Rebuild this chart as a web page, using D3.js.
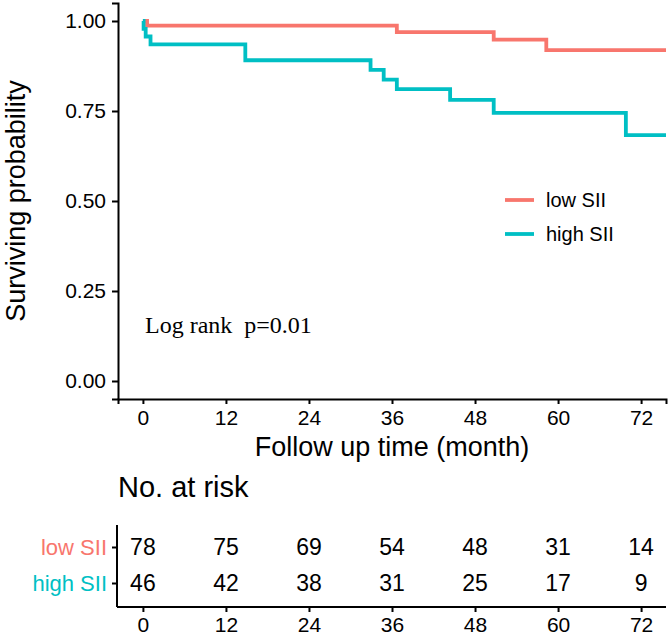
<!DOCTYPE html>
<html><head><meta charset="utf-8">
<script src="https://cdn.jsdelivr.net/npm/d3@7"></script>
<style>body{margin:0;background:#fff}svg{display:block}</style>
</head><body><svg id="c" width="669" height="643" font-family="Liberation Sans, Arial, sans-serif"></svg>
<script>
const groups = ["low SII", "high SII"];
const colors = ["#F8766D", "#00BFC4"];
const lowTimes = [0, 0.6, 36.7, 50.7, 58.3];
const lowSurv  = [1, 0.987, 0.969, 0.948, 0.919];
const highTimes = [0, 0.1, 0.4, 1.1, 14.8, 32.9, 34.8, 36.7, 44.4, 50.7, 69.8];
const highSurv  = [1, 0.978, 0.957, 0.935, 0.891, 0.864, 0.837, 0.811, 0.781, 0.745, 0.683];
const endTime = 75.6;
const xTicks = [0, 12, 24, 36, 48, 60, 72];
const yTicks = [0, 0.25, 0.5, 0.75, 1];
const riskLow  = [78, 75, 69, 54, 48, 31, 14];
const riskHigh = [46, 42, 38, 31, 25, 17, 9];
const pText = "Log rank  p=0.01";

const SANS = "Liberation Sans, Arial, sans-serif";
const svg = d3.select("#c");
const x = d3.scaleLinear().domain([-3.6, 75.6]).range([118, 666]);
const y = d3.scaleLinear().domain([-0.05, 1.05]).range([399, 3]);

const series = [
  {times: lowTimes, surv: lowSurv},
  {times: highTimes, surv: highSurv}
];
const line = d3.line().x(d => x(d[0])).y(d => y(d[1])).curve(d3.curveStepAfter);
series.forEach((s, i) => {
  const pts = s.times.map((t, j) => [t, s.surv[j]]);
  pts.push([endTime, s.surv[s.surv.length - 1]]);
  svg.append("path").attr("d", line(pts)).attr("fill", "none")
    .attr("stroke", colors[i]).attr("stroke-width", 3.8);
});

const fmt = d3.format(".2f");
const yAxis = svg.append("g").attr("transform", "translate(118,0)")
  .call(d3.axisLeft(y).tickValues(yTicks).tickFormat(fmt).tickSize(6).tickPadding(6));
const xAxis = svg.append("g").attr("transform", "translate(0,399)")
  .call(d3.axisBottom(x).tickValues(xTicks).tickSize(5).tickPadding(6));
[yAxis, xAxis].forEach(g => {
  g.select(".domain").attr("stroke", "#000").attr("stroke-width", 2);
  g.selectAll(".tick line").attr("stroke", "#000").attr("stroke-width", 2);
  g.selectAll(".tick text").attr("fill", "#000").style("font-size", "21px").style("font-family", SANS);
});

svg.append("text").attr("x", 392).attr("y", 456).attr("text-anchor", "middle")
  .style("font-size", "27px").text("Follow up time (month)");
svg.append("text").attr("transform", "translate(25,201) rotate(-90)")
  .attr("text-anchor", "middle").style("font-size", "27px").text("Surviving probability");

svg.append("text").attr("x", 145).attr("y", 333)
  .style("font-family", "Liberation Serif, Times New Roman, serif").style("font-size", "24px")
  .style("white-space", "pre").text(pText);

const legY = [200, 234];
groups.forEach((g, i) => {
  svg.append("line").attr("x1", 505).attr("x2", 534).attr("y1", legY[i]).attr("y2", legY[i])
    .attr("stroke", colors[i]).attr("stroke-width", 3.8);
  svg.append("text").attr("x", 546).attr("y", legY[i]).attr("dy", "0.35em")
    .style("font-size", "20px").text(g);
});

svg.append("text").attr("x", 118).attr("y", 497).style("font-size", "29px").text("No. at risk");
const ry = d3.scalePoint().domain(groups).range([547, 583]);
const rg = svg.append("g").attr("transform", "translate(117,0)")
  .call(d3.axisLeft(ry).tickSize(5).tickPadding(5));
rg.select(".domain").attr("d", "M0,525V607").attr("stroke", "#000").attr("stroke-width", 2);
rg.selectAll(".tick line").attr("stroke", "#000").attr("stroke-width", 2);
rg.selectAll(".tick text").style("font-size", "22px").style("font-family", SANS)
  .attr("fill", (d, i) => colors[i]);
const bx = svg.append("g").attr("transform", "translate(0,607)")
  .call(d3.axisBottom(x).tickValues(xTicks).tickSize(5).tickPadding(5));
bx.select(".domain").attr("d", "M117,0H666").attr("stroke", "#000").attr("stroke-width", 2);
bx.selectAll(".tick line").attr("stroke", "#000").attr("stroke-width", 2);
bx.selectAll(".tick text").attr("fill", "#000").style("font-size", "21px").style("font-family", SANS);
[riskLow, riskHigh].forEach((row, i) => {
  svg.append("g").selectAll("text").data(row).join("text")
    .attr("x", (d, j) => x(xTicks[j])).attr("y", ry(groups[i])).attr("dy", "0.36em")
    .attr("text-anchor", "middle").style("font-size", "23px").text(d => d);
});
</script></body></html>
